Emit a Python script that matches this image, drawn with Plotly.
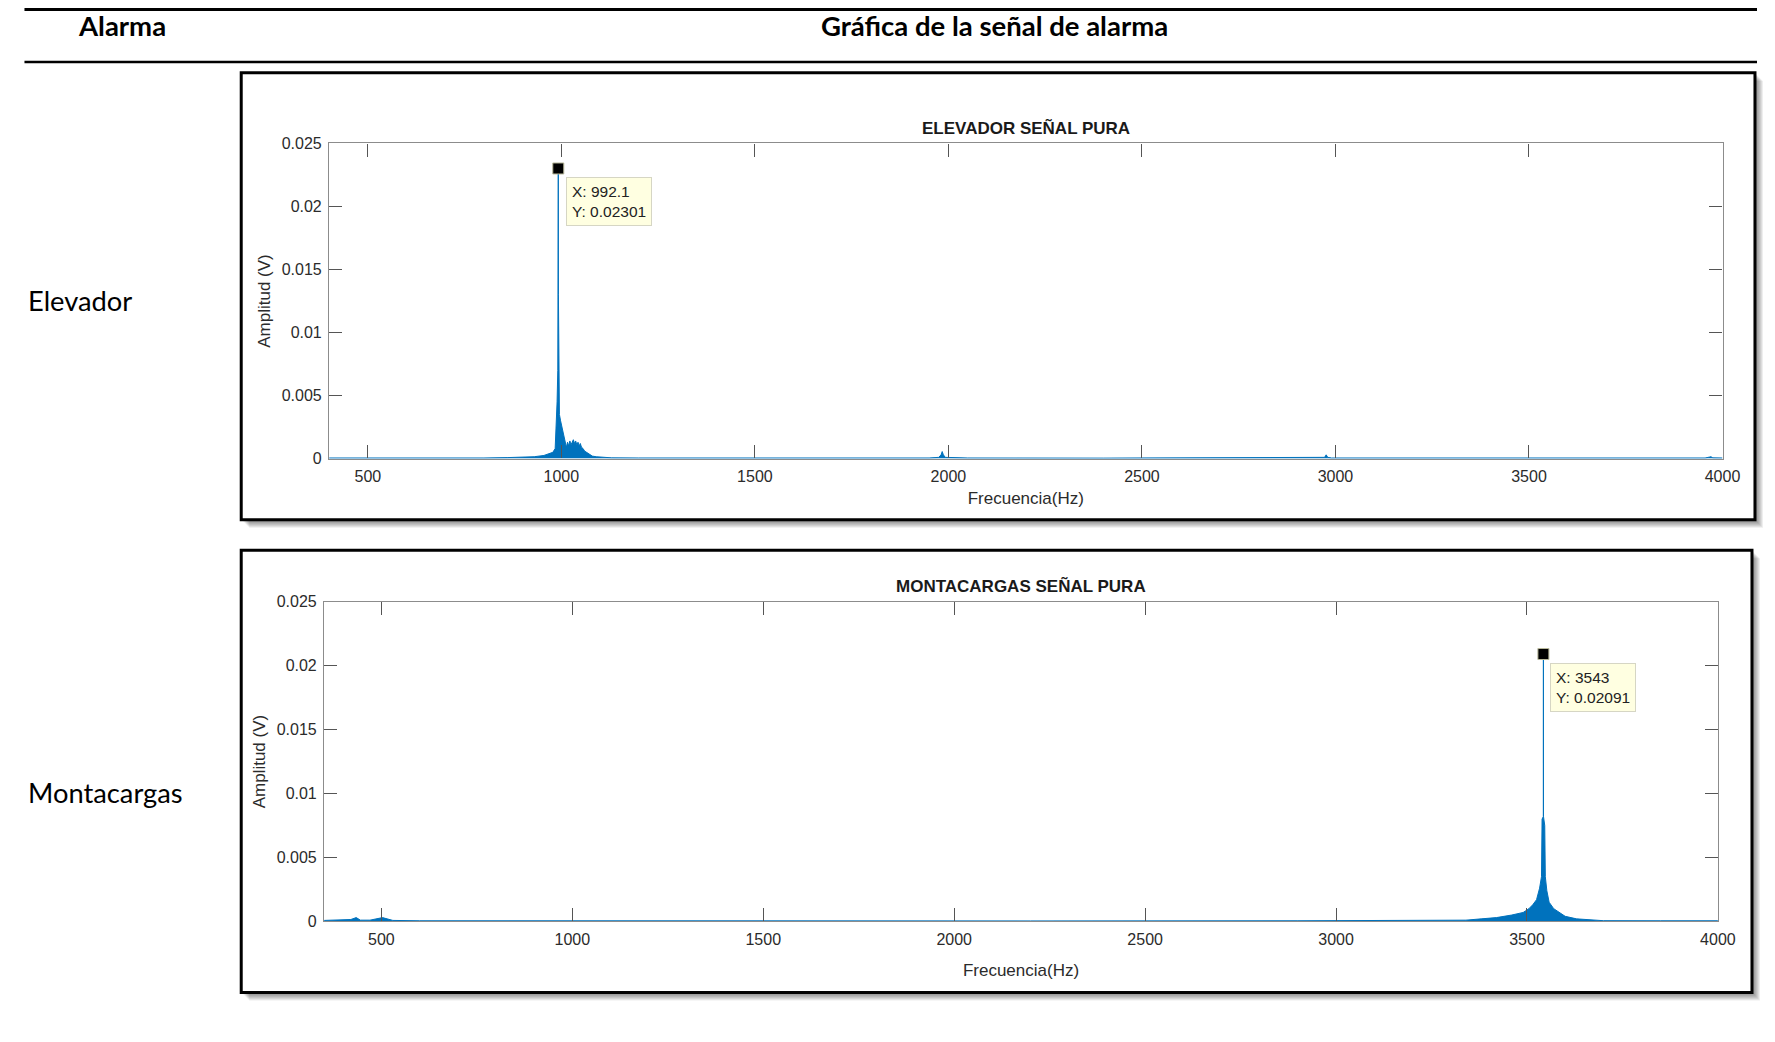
import plotly.graph_objects as go

W, H = 1775, 1042

# ---------------- data ----------------
header_left = "Alarma"
header_right = "Gráfica de la señal de alarma"
row_labels = ["Elevador", "Montacargas"]
panel_titles = ["ELEVADOR SEÑAL PURA", "MONTACARGAS SEÑAL PURA"]
x_title = "Frecuencia(Hz)"
y_title = "Amplitud (V)"

x_tickvals = [500, 1000, 1500, 2000, 2500, 3000, 3500, 4000]
y_tickvals = [0, 0.005, 0.01, 0.015, 0.02, 0.025]
y_ticktext = ["0", "0.005", "0.01", "0.015", "0.02", "0.025"]

# Elevador spectrum
elev_freq = [400, 500, 600, 700, 800, 860, 900, 930, 955, 970, 978, 984, 987, 989,
             990.8, 991.8, 992.1, 992.4, 993.5, 995, 998, 1001, 1004, 1007, 1010,
             1013, 1016, 1019, 1022, 1025, 1028, 1031, 1034, 1037, 1040, 1043, 1046,
             1049, 1052, 1056, 1060, 1065, 1072, 1080, 1090, 1105, 1130, 1200, 1400,
             1700, 1950, 1975, 1981, 1984, 1987, 1992, 2050, 2400, 2800, 2960, 2972,
             2976, 2980, 2990, 3300, 3700, 3955, 3966, 3970, 3975, 4000]
elev_amp = [0.00005, 0.00004, 0.00005, 0.00004, 0.00005, 0.00008, 0.0001, 0.00015, 0.00025,
            0.0004, 0.0005, 0.0008, 0.0027, 0.0045,
            0.007, 0.013, 0.02301, 0.013, 0.006, 0.0035, 0.0030, 0.0026, 0.0022, 0.0017, 0.0012,
            0.0009, 0.0013, 0.0010, 0.0014, 0.0011, 0.0013, 0.0015, 0.0012, 0.0014, 0.0011, 0.0013, 0.0010,
            0.0012, 0.0009, 0.0008, 0.0006, 0.0005, 0.0003, 0.0002, 0.00015, 0.0001, 0.00006, 0.00005, 0.00004,
            0.00005, 0.00005, 0.0001, 0.0003, 0.00056, 0.0003, 0.0001, 0.00005, 0.00004, 0.00005, 0.00005, 0.0001,
            0.0003, 0.0001, 0.00005, 0.00004, 0.00005, 0.00005, 0.00012, 0.00015, 0.00006, 0.00005]

# Montacargas spectrum
mont_freq = [350, 380, 400, 420, 434, 445, 470, 490, 503, 515, 530, 600, 900, 1500, 2200,
             2900, 3300, 3340, 3380, 3420, 3460, 3490, 3505, 3515, 3525, 3533, 3538,
             3539.5, 3542.8, 3543, 3543.2, 3546.5, 3548, 3552, 3558, 3570, 3585,
             3600, 3630, 3670, 3700, 3850, 4000]
mont_amp = [0.00008, 0.0001, 0.00008, 0.00015, 0.0003, 0.0001, 0.0001, 0.0002, 0.0003, 0.0002,
            0.00008, 0.00005, 0.00004, 0.00005, 0.00004,
            0.00005, 0.00006, 0.0001, 0.0002, 0.0003, 0.0005, 0.0007, 0.0010, 0.0013, 0.0017, 0.0026, 0.0035,
            0.008, 0.0082, 0.02091, 0.0082, 0.0075, 0.0035, 0.0024, 0.0015, 0.0010, 0.0007,
            0.0004, 0.0002, 0.0001, 0.00006, 0.00005, 0.00005]

elev_peak = (992.1, 0.02301)
mont_peak = (3543, 0.02091)

# ---------------- layout helpers ----------------
# target pixel -> paper fraction (compensates the page offset/scale of the viewer)
def px(x):
    return ((x + 1.5) / 0.991) / W

def py(y):
    return 1 - ((y - 7.7) / 0.983) / H

BLUE = "#0072BD"
FONT = "Liberation Sans, Arial, Helvetica, sans-serif"
HFONT = "Lato, Calibri, sans-serif"

fig = go.Figure()

fig.add_trace(go.Scatter(x=elev_freq, y=elev_amp, mode="lines", fill="tozeroy",
                         line=dict(color=BLUE, width=1), fillcolor=BLUE,
                         xaxis="x", yaxis="y", showlegend=False, hoverinfo="skip"))
fig.add_trace(go.Scatter(x=mont_freq, y=mont_amp, mode="lines", fill="tozeroy",
                         line=dict(color=BLUE, width=1), fillcolor=BLUE,
                         xaxis="x2", yaxis="y2", showlegend=False, hoverinfo="skip"))
fig.add_trace(go.Scatter(x=[elev_peak[0]], y=[elev_peak[1]], mode="markers",
                         marker=dict(symbol="square", size=11, color="black",
                                     line=dict(color="#b8b89a", width=1)),
                         xaxis="x", yaxis="y", showlegend=False, hoverinfo="skip",
                         cliponaxis=False))
fig.add_trace(go.Scatter(x=[mont_peak[0]], y=[mont_peak[1]], mode="markers",
                         marker=dict(symbol="square", size=11, color="black",
                                     line=dict(color="#b8b89a", width=1)),
                         xaxis="x2", yaxis="y2", showlegend=False, hoverinfo="skip",
                         cliponaxis=False))

axis_common = dict(
    showline=True, linecolor="#8c8c8c", linewidth=1.3, mirror="ticks",
    ticks="inside", ticklen=13, tickcolor="#555555", tickwidth=1.2,
    showgrid=False, zeroline=False,
    tickfont=dict(family=FONT, size=16, color="#2b2b2b"),
)
title_font = dict(family=FONT, size=17, color="#2b2b2b")

fig.update_layout(
    width=W, height=H,
    margin=dict(l=0, r=0, t=0, b=0),
    paper_bgcolor="white", plot_bgcolor="white",
    xaxis=dict(domain=[px(328), px(1723)], range=[400, 4000], tickvals=x_tickvals,
               anchor="y", ticklabelstandoff=3,
               title=dict(text=x_title, font=title_font, standoff=8),
               **axis_common),
    yaxis=dict(domain=[py(458), py(143)], range=[0, 0.025], tickvals=y_tickvals,
               ticktext=y_ticktext, anchor="x", ticklabelstandoff=3,
               title=dict(text=y_title, font=title_font, standoff=6),
               **axis_common),
    xaxis2=dict(domain=[px(323), px(1718.4)], range=[350, 4000], tickvals=x_tickvals,
                anchor="y2", ticklabelstandoff=3,
                title=dict(text=x_title, font=title_font, standoff=17),
                **axis_common),
    yaxis2=dict(domain=[py(920.5), py(601)], range=[0, 0.025], tickvals=y_tickvals,
                ticktext=y_ticktext, anchor="x2", ticklabelstandoff=3,
                title=dict(text=y_title, font=title_font, standoff=6),
                **axis_common),
)

shapes = []
# horizontal rules of the table
shapes.append(dict(type="line", xref="paper", yref="paper", x0=px(23), x1=1, y0=py(9.2), y1=py(9.2),
                   line=dict(color="black", width=3)))
shapes.append(dict(type="line", xref="paper", yref="paper", x0=px(23), x1=1, y0=py(61.7), y1=py(61.7),
                   line=dict(color="black", width=2.5)))

# frames with drop shadow
for (x0, y0, x1, y1) in [(240, 72.5, 1755.5, 519), (240, 549.5, 1752.5, 991.5)]:
    for k in range(1, 9):
        shapes.append(dict(type="rect", xref="paper", yref="paper", layer="below",
                           x0=px(x0 + k), x1=px(x1 + k), y0=py(y1 + k), y1=py(y0 + k),
                           line=dict(width=0), fillcolor="rgba(0,0,0,0.07)"))
    shapes.append(dict(type="rect", xref="paper", yref="paper", layer="below",
                       x0=px(x0), x1=px(x1), y0=py(y1), y1=py(y0),
                       line=dict(color="black", width=3), fillcolor="white"))

fig.update_layout(shapes=shapes)

annotations = [
    dict(text=f"<b>{header_left}</b>", xref="paper", yref="paper", x=px(120.5), y=py(25),
         xanchor="center", yanchor="middle", showarrow=False,
         font=dict(family=HFONT, size=27.5, color="black")),
    dict(text=f"<b>{header_right}</b>", xref="paper", yref="paper", x=px(994.5), y=py(25),
         xanchor="center", yanchor="middle", showarrow=False,
         font=dict(family=HFONT, size=27.5, color="black")),
    dict(text=row_labels[0], xref="paper", yref="paper", x=px(25), y=py(300),
         xanchor="left", yanchor="middle", showarrow=False,
         font=dict(family=HFONT, size=27.3, color="black")),
    dict(text=row_labels[1], xref="paper", yref="paper", x=px(25), y=py(792),
         xanchor="left", yanchor="middle", showarrow=False,
         font=dict(family=HFONT, size=27.3, color="black")),
    dict(text=f"<b>{panel_titles[0]}</b>", xref="paper", yref="paper", x=px(1025.5), y=py(128),
         xanchor="center", yanchor="middle", showarrow=False,
         font=dict(family=FONT, size=17, color="#1a1a1a")),
    dict(text=f"<b>{panel_titles[1]}</b>", xref="paper", yref="paper", x=px(1021), y=py(585),
         xanchor="center", yanchor="middle", showarrow=False,
         font=dict(family=FONT, size=17, color="#1a1a1a")),
    dict(text=f"X: {elev_peak[0]}<br>Y: {elev_peak[1]}", xref="x", yref="y",
         x=elev_peak[0], y=elev_peak[1], xanchor="left", yanchor="top", align="left",
         xshift=8, yshift=-9, showarrow=False, bgcolor="#FFFFE1", bordercolor="#d6d6c4",
         borderwidth=1, borderpad=5, font=dict(family=FONT, size=15.5, color="#222222")),
    dict(text=f"X: {mont_peak[0]}<br>Y: {mont_peak[1]}", xref="x2", yref="y2",
         x=mont_peak[0], y=mont_peak[1], xanchor="left", yanchor="top", align="left",
         xshift=7, yshift=-9, showarrow=False, bgcolor="#FFFFE1", bordercolor="#d6d6c4",
         borderwidth=1, borderpad=5, font=dict(family=FONT, size=15.5, color="#222222")),
]
fig.update_layout(annotations=annotations)

post = ("document.documentElement.style.margin='0px';"
        "document.body.style.margin='0px';document.body.style.padding='0px';"
        "document.body.style.overflow='hidden';"
        "var d=document.getElementById('{plot_id}');"
        "d.style.position='fixed';d.style.left='0px';d.style.top='0px';")

fig.write_html("out.html", config={"displayModeBar": False}, post_script=post)
